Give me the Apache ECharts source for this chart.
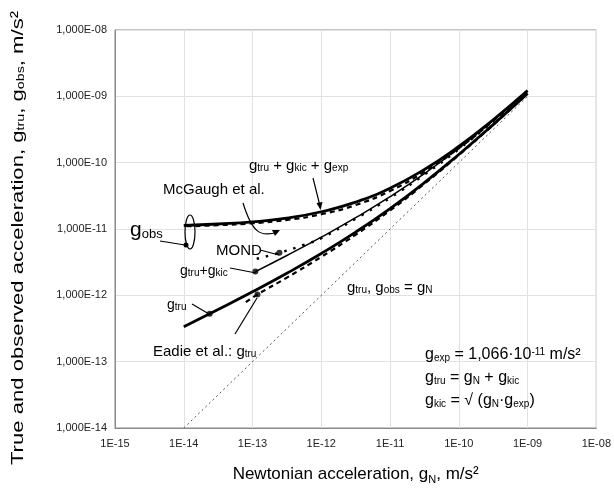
<!DOCTYPE html>
<html><head><meta charset="utf-8">
<script src="https://cdn.jsdelivr.net/npm/echarts@6/dist/echarts.min.js"></script>
<style>html,body{margin:0;padding:0;background:#fff}#c{width:614px;height:490px}</style>
</head><body><div id="c"></div>
<script>
// ---- data ----
const xTicks = ['1E-15','1E-14','1E-13','1E-12','1E-11','1E-10','1E-09','1E-08'];
const yTicks = ['1,000E-14','1,000E-13','1,000E-12','1,000E-11','1,000E-10','1,000E-09','1,000E-08'];

const gNx = [1e-14, 1e-9];
const gNy = [1e-14, 1e-9];

const curveX = [1e-14, 3.16e-14, 1e-13, 3.16e-13, 1e-12, 3.16e-12, 1e-11, 3.16e-11, 1e-10, 3.16e-10, 1e-9];
const gTru   = [3.37e-13, 6.12e-13, 1.13e-12, 2.15e-12, 4.27e-12, 8.97e-12, 2.03e-11, 5.0e-11, 1.33e-10, 3.74e-10, 1.10e-9];
const gTop   = [1.13e-11, 1.19e-11, 1.28e-11, 1.46e-11, 1.82e-11, 2.54e-11, 4.13e-11, 7.9e-11, 1.76e-10, 4.43e-10, 1.22e-9];

const kicX   = [1.1e-13, 3.16e-13, 1e-12, 3.16e-12, 1e-11, 3.16e-11, 1e-10, 3.16e-10, 1e-9];
const gTruKic= [2.28e-12, 3.99e-12, 7.53e-12, 1.48e-11, 3.07e-11, 6.83e-11, 1.65e-10, 4.32e-10, 1.21e-9];

const mcX    = [1.1e-14, 3.16e-14, 1e-13, 3.16e-13, 1e-12, 3.16e-12, 1e-11, 3.16e-11, 1e-10, 3.16e-10, 1e-9];
const mcY    = [1.10e-11, 1.14e-11, 1.22e-11, 1.37e-11, 1.67e-11, 2.3e-11, 3.75e-11, 7.3e-11, 1.65e-10, 4.25e-10, 1.18e-9];

const mondX  = [1.15e-13, 2.46e-13, 5.7e-13, 1e-12, 3.16e-12, 1e-11, 3.16e-11, 1e-10, 3.16e-10, 1e-9];
const mondY  = [3.56e-12, 4.38e-12, 5.8e-12, 7.3e-12, 1.43e-11, 2.95e-11, 6.6e-11, 1.6e-10, 4.2e-10, 1.18e-9];

const eadX   = [8e-14, 1.18e-13, 3.16e-13, 1e-12, 3.16e-12, 1e-11, 3.16e-11, 1e-10, 3.16e-10, 1e-9];
const eadY   = [7.9e-13, 1.03e-12, 1.85e-12, 3.8e-12, 8.2e-12, 1.9e-11, 4.8e-11, 1.3e-10, 3.7e-10, 1.1e-9];

const dotX   = [2.38e-14, 1.1e-13, 2.46e-13, 1.18e-13];
const dotY   = [5.28e-13, 2.28e-12, 4.38e-12, 1.03e-12];

// ---- build ----
const zip = (a, b) => a.map((v, i) => [v, b[i]]);
const FONT = 'Liberation Sans, Arial, Helvetica, sans-serif';
const expOf = v => Math.round(Math.log10(v));

const chart = echarts.init(document.getElementById('c'), null, {renderer: 'canvas'});

const subRich = (big, small) => ({
  b: {fontSize: big, fontFamily: FONT, color: '#000'},
  s: {fontSize: small, fontFamily: FONT, color: '#000', verticalAlign: 'bottom', padding: [0, 0, -2, 0]},
  p: {fontSize: small, fontFamily: FONT, color: '#000', verticalAlign: 'top'}
});

function txt(x, y, text, big, small, extra) {
  const el = {
    type: 'text', x: x, y: y, z: 100,
    style: {
      text: text, rich: {
        b: {fontSize: big, fontFamily: FONT, fill: '#000'},
        s: {fontSize: small, fontFamily: FONT, fill: '#000', verticalAlign: 'bottom'},
        p: {fontSize: small, fontFamily: FONT, fill: '#000', verticalAlign: 'top'}
      },
      fontSize: big, fontFamily: FONT, fill: '#000',
      align: 'left', verticalAlign: 'middle',
      textAlign: 'left', textVerticalAlign: 'middle'
    }
  };
  return Object.assign(el, extra || {});
}
function line(x1, y1, x2, y2, w) {
  return {type: 'line', z: 100, shape: {x1, y1, x2, y2}, style: {stroke: '#000', lineWidth: w || 1.2}};
}
function dot(x, y) {
  return {type: 'circle', z: 101, shape: {cx: x, cy: y, r: 2.5}, style: {fill: '#000'}};
}
function head(pts) {
  return {type: 'polygon', z: 101, shape: {points: pts}, style: {fill: '#000'}};
}

const yTitle = txt(18, 238, '{b|True and observed acceleration, g}{s|tru}{b|, g}{s|obs}{b|, m/s²}', 17, 11,
  {rotation: Math.PI / 2, scaleX: 1.3});
yTitle.style.align = 'center'; yTitle.style.textAlign = 'center';

const option = {
  backgroundColor: '#fff',
  animation: false,
  grid: {left: 115, right: 15, top: 30, bottom: 58, show: true, borderColor: '#8a8a8a', borderWidth: 1},
  xAxis: {
    type: 'log', logBase: 10, min: 1e-15, max: 1e-8, interval: 1,
    axisLine: {show: true, lineStyle: {color: '#8a8a8a'}},
    axisTick: {show: false},
    splitLine: {show: true, lineStyle: {color: '#e2e2e2', width: 1}},
    axisLabel: {color: '#222', fontSize: 11, fontFamily: FONT, margin: 10,
      formatter: v => xTicks[expOf(v) + 15]},
    name: '{b|Newtonian acceleration, g}{s|N}{b|, m/s²}',
    nameLocation: 'middle', nameGap: 38,
    nameTextStyle: {rich: subRich(17, 11)}
  },
  yAxis: {
    type: 'log', logBase: 10, min: 1e-14, max: 1e-8, interval: 1,
    axisLine: {show: true, lineStyle: {color: '#8a8a8a'}},
    axisTick: {show: false},
    splitLine: {show: true, lineStyle: {color: '#e2e2e2', width: 1}},
    axisLabel: {color: '#222', fontSize: 11, fontFamily: FONT, margin: 8,
      formatter: v => yTicks[expOf(v) + 14]}
  },
  series: [
    {type: 'line', name: 'gN', data: zip(gNx, gNy), showSymbol: false, z: 2,
      lineStyle: {color: '#555', width: 1, type: [2, 3]}},
    {type: 'line', name: 'McGaugh', data: zip(mcX, mcY), showSymbol: false, smooth: true, z: 3,
      lineStyle: {color: '#000', width: 2.2, type: [5, 4]}},
    {type: 'line', name: 'MOND', data: zip(mondX, mondY), showSymbol: false, smooth: true, z: 3,
      lineStyle: {color: '#000', width: 2.5, type: [2.5, 7]}},
    {type: 'line', name: 'Eadie', data: zip(eadX, eadY), showSymbol: false, smooth: true, z: 3,
      lineStyle: {color: '#000', width: 2.2, type: [5, 4]}},
    {type: 'line', name: 'gtru', data: zip(curveX, gTru), showSymbol: false, smooth: true, z: 4,
      lineStyle: {color: '#000', width: 2.8}},
    {type: 'line', name: 'gtru+gkic', data: zip(kicX, gTruKic), showSymbol: false, smooth: true, z: 4,
      lineStyle: {color: '#000', width: 1.5}},
    {type: 'line', name: 'gtru+gkic+gexp', data: zip(curveX, gTop), showSymbol: false, smooth: true, z: 4,
      lineStyle: {color: '#000', width: 2.8}},
    {type: 'scatter', name: 'dots', data: zip(dotX, dotY), symbolSize: 6, z: 5,
      itemStyle: {color: '#000'}}
  ],
  graphic: [
    yTitle,
    // g_tru + g_kic + g_exp
    txt(249, 166, '{b|g}{s|tru}{b| + g}{s|kic}{b| + g}{s|exp}', 15, 10),
    line(313, 178, 320, 206),
    head([[316.5, 203], [322.5, 202], [320.5, 210]]),
    // McGaugh
    txt(163, 190, 'McGaugh et al.', 15, 10),
    {type: 'bezierCurve', z: 100, shape: {x1: 243, y1: 203, cpx1: 252, cpy1: 232, cpx2: 260, cpy2: 238, x2: 278, y2: 232},
      style: {stroke: '#000', lineWidth: 1.2, fill: null}},
    head([[272, 230], [280, 230], [275, 236]]),
    // g_obs
    txt(130, 230, '{b|g}{s|obs}', 21, 13),
    line(160, 241, 185, 245),
    dot(186, 245),
    {type: 'ellipse', z: 100, shape: {cx: 190, cy: 232, rx: 5, ry: 17}, style: {stroke: '#000', lineWidth: 1.2, fill: null}},
    // MOND
    txt(216, 251, 'MOND', 15, 10),
    line(260, 250, 279, 255),
    // g_tru + g_kic
    txt(180, 271, '{b|g}{s|tru}{b|+g}{s|kic}', 14, 10),
    line(230, 268, 256, 273),
    // g_tru
    txt(167, 305, '{b|g}{s|tru}', 14, 10),
    line(192, 304, 209, 314),
    // Eadie
    txt(153, 352, '{b|Eadie et al.: g}{s|tru}', 15, 10),
    line(235, 334, 257, 298),
    // g_tru, g_obs = g_N
    txt(347, 288, '{b|g}{s|tru}{b|, g}{s|obs}{b| = g}{s|N}', 15, 10),
    // formulas
    txt(425, 355, '{b|g}{s|exp}{b| = 1,066·10}{p|-11}{b| m/s²}', 16, 10),
    txt(425, 378, '{b|g}{s|tru}{b| = g}{s|N}{b| + g}{s|kic}', 16, 10),
    txt(425, 401, '{b|g}{s|kic}{b| = √ (g}{s|N}{b|·g}{s|exp}{b|)}', 16, 10)
  ]
};
chart.setOption(option);
</script>
</body></html>
